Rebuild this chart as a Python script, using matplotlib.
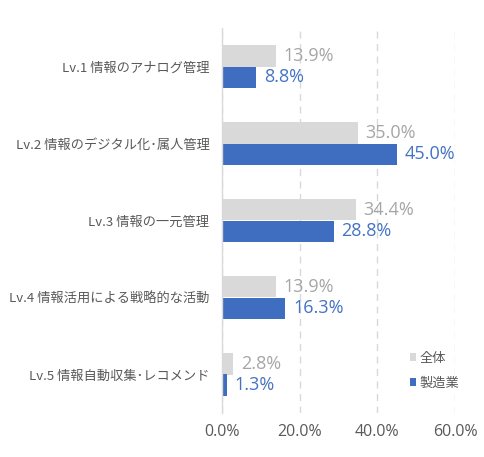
import numpy as np
import matplotlib.pyplot as plt

plt.rcParams['font.family'] = ['Noto Sans CJK JP', 'DejaVu Sans']

# Data
categories = ["Lv.1 情報のアナログ管理", "Lv.2 情報のデジタル化･属人管理", "Lv.3 情報の一元管理",
              "Lv.4 情報活用による戦略的な活動", "Lv.5 情報自動収集･レコメンド"]
overall = [13.9, 35.0, 34.4, 13.9, 2.8]
manufacturing = [8.8, 45.0, 28.8, 16.3, 1.3]
series_names = ["全体", "製造業"]

gray_bar = "#D9D9D9"
blue_bar = "#3F6DC0"
gray_txt = "#A6A6A6"
blue_txt = "#4472C4"
axis_txt = "#595959"
num_font = ['Open Sans', 'DejaVu Sans']

fig = plt.figure(figsize=(4.85, 4.57), dpi=100)
ax = fig.add_axes([222 / 485, 1 - 413 / 457, (455 - 222) / 485, (413 - 28) / 457])

y = np.arange(len(categories))
h = 0.28
b1 = ax.barh(y - h / 2, overall, height=h, color=gray_bar, label=series_names[0])
b2 = ax.barh(y + h / 2, manufacturing, height=h, color=blue_bar, label=series_names[1])

for yi, v in zip(y, overall):
    ax.text(v + 2.0, yi - h / 2, f"{v:.1f}%", va="center", ha="left", color=gray_txt,
            fontsize=13, family=num_font)
for yi, v in zip(y, manufacturing):
    ax.text(v + 2.0, yi + h / 2, f"{v:.1f}%", va="center", ha="left", color=blue_txt,
            fontsize=13, family=num_font)

ax.set_xlim(0, 60)
ax.set_ylim(len(categories) - 0.5, -0.5)
ax.set_xticks([0, 20, 40, 60])
ax.set_xticklabels(["0.0%", "20.0%", "40.0%", "60.0%"], family=num_font)
ax.set_yticks(y)
ax.set_yticklabels(categories)
ax.tick_params(axis="x", length=0, labelsize=11.5, colors=axis_txt, pad=8)
ax.tick_params(axis="y", length=0, labelsize=9.5, colors=axis_txt, pad=9)

ax.xaxis.grid(True, linestyle=(0, (5, 4)), color="#D9D9D9", linewidth=1)
ax.set_axisbelow(True)
for s in ["top", "right", "bottom"]:
    ax.spines[s].set_visible(False)
ax.spines["left"].set_color("#D9D9D9")
ax.spines["left"].set_linewidth(1)

leg = ax.legend(handles=[b1, b2], loc="lower right", bbox_to_anchor=(1.07, 0.03),
                frameon=False, fontsize=9.5, handlelength=0.45, handleheight=0.55,
                handletextpad=0.3, labelspacing=0.9)
for t in leg.get_texts():
    t.set_color(axis_txt)

fig.savefig("out.png", dpi=100)
